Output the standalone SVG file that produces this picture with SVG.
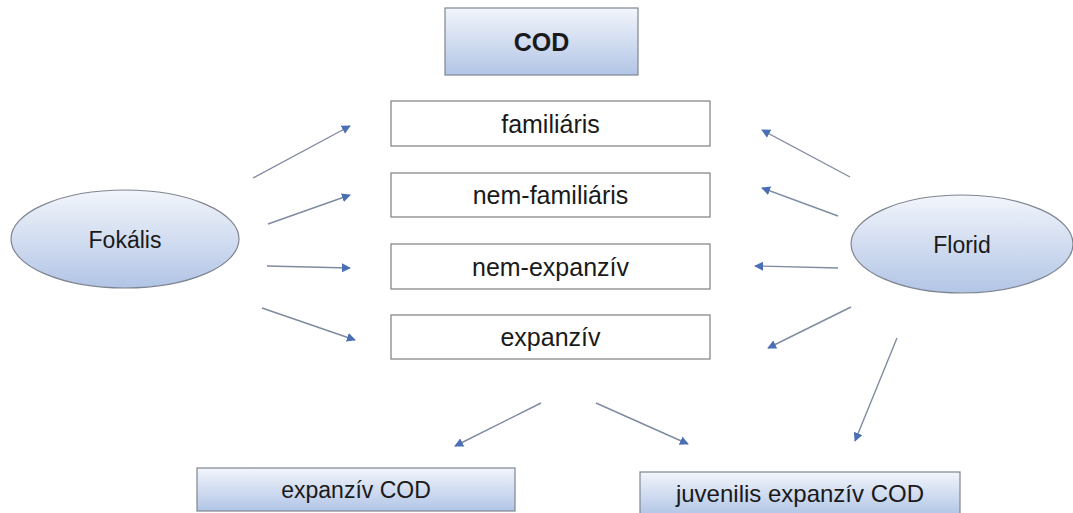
<svg xmlns="http://www.w3.org/2000/svg" width="1073" height="513" viewBox="0 0 1073 513">
<defs>
<linearGradient id="g" x1="0" y1="0" x2="0" y2="1">
<stop offset="0" stop-color="#f2f5fb"/>
<stop offset="1" stop-color="#b2c5e6"/>
</linearGradient>
<marker id="ah" viewBox="0 0 10 10" refX="9" refY="5" markerWidth="9" markerHeight="9" markerUnits="userSpaceOnUse" orient="auto">
<path d="M0,0 L10,5 L0,10 z" fill="#4a6fb5"/>
</marker>
<style>
.grad{fill:url(#g);stroke:#7f8590;stroke-width:1.2}
.plain{fill:#ffffff;stroke:#7f7f7f;stroke-width:1.2}
.t{font-family:"Liberation Sans",Arial,sans-serif;font-size:23px;fill:#1a1a1a;text-anchor:middle;dominant-baseline:central}
.w{font-size:25px}
.b{font-weight:bold;font-size:25px}
.c{stroke:#7f8ba0;stroke-width:1.4;fill:none;marker-end:url(#ah)}
</style>
</defs>
<rect width="1073" height="513" fill="#ffffff"/>
<g id="cod"><rect class="grad" x="445" y="8" width="193" height="67"/><text class="t b" x="541.5" y="42">COD</text></g>
<g id="familiaris"><rect class="plain" x="391" y="101" width="319" height="45"/><text class="t w" x="550.5" y="124">familiáris</text></g>
<g id="nem-familiaris"><rect class="plain" x="391" y="173" width="319" height="44"/><text class="t w" x="550.5" y="195">nem-familiáris</text></g>
<g id="nem-expanziv"><rect class="plain" x="391" y="244" width="319" height="45"/><text class="t w" x="550.5" y="267">nem-expanzív</text></g>
<g id="expanziv"><rect class="plain" x="391" y="315" width="319" height="44"/><text class="t w" x="550.5" y="337">expanzív</text></g>
<g id="fokalis"><ellipse class="grad" cx="125" cy="239" rx="114" ry="49"/><text class="t" x="125" y="240">Fokális</text></g>
<g id="florid"><ellipse class="grad" cx="962" cy="244" rx="111" ry="49"/><text class="t" x="962" y="245">Florid</text></g>
<g id="expanziv-cod"><rect class="grad" x="197" y="468" width="318" height="43"/><text class="t" x="356" y="490">expanzív COD</text></g>
<g id="juvenilis"><rect class="grad" x="640" y="472" width="320" height="43"/><text class="t" x="800" y="493" style="font-size:24px">juvenilis expanzív COD</text></g>
<g id="connectors">
<line class="c" x1="253" y1="178" x2="350" y2="126"/>
<line class="c" x1="268" y1="224" x2="350" y2="195"/>
<line class="c" x1="267" y1="266" x2="350" y2="268"/>
<line class="c" x1="262" y1="308" x2="355" y2="340"/>
<line class="c" x1="850" y1="177" x2="762" y2="130"/>
<line class="c" x1="838" y1="216" x2="762" y2="188"/>
<line class="c" x1="838" y1="268" x2="755" y2="266"/>
<line class="c" x1="851" y1="307" x2="768" y2="348"/>
<line class="c" x1="541" y1="403" x2="455" y2="446"/>
<line class="c" x1="596" y1="403" x2="688" y2="444"/>
<line class="c" x1="897" y1="338" x2="855" y2="441"/>
</g>
</svg>
